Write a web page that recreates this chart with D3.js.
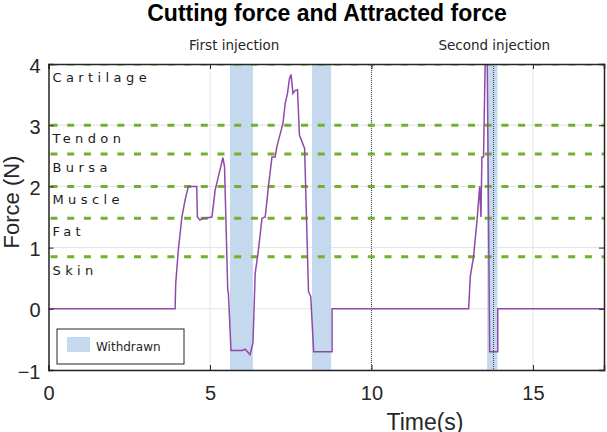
<!DOCTYPE html>
<meta charset="utf-8">
<style>
body{
    margin:0;
    background:white;
}
svg text{
    font-family:"Liberation Sans", Arial, Helvetica, sans-serif;
}
.tick text{
    font-size:20px;
    fill:#262626;
}
.layerLabel{
    font-family:"DejaVu Sans", sans-serif !important;
    font-size:13px;
    letter-spacing:4.4px;
    fill:#1a1a1a;
}
.note{
    font-family:"DejaVu Sans", sans-serif !important;
    font-size:13.5px;
    fill:#262626;
    text-anchor:middle;
}
</style>
<body>
<script src="https://cdn.jsdelivr.net/npm/d3@7"></script>
<script>
// force trace
var time  = [0, 3.92, 3.94, 4.02, 4.13, 4.23, 4.33, 4.59, 4.61, 4.69, 4.75, 5.06, 5.16, 5.26, 5.40, 5.45,
             5.55, 5.57, 5.65, 5.99, 6.09, 6.24, 6.33, 6.40, 6.50, 6.61, 6.71, 6.81, 6.92, 7.02, 7.07,
             7.15, 7.26, 7.33, 7.40, 7.46, 7.51, 7.57, 7.64, 7.71, 7.77, 7.93, 8.05, 8.12, 8.21, 8.78,
             8.78, 13.01, 13.06, 13.16, 13.27, 13.35, 13.39, 13.42, 13.47, 13.53, 13.58, 13.66, 13.91,
             13.91, 17.2];
var force = [0, 0, 0.42, 0.96, 1.5, 1.78, 2.0, 2.0, 1.5, 1.45, 1.47, 1.5, 1.94, 2.16, 2.47, 2.32,
             0.31, 0.26, -0.68, -0.68, -0.66, -0.75, -0.56, 0.58, 0.96, 1.48, 1.5, 2.0, 2.48, 2.48, 2.65,
             2.81, 3.03, 3.36, 3.52, 3.76, 3.83, 3.52, 3.57, 3.58, 2.84, 2.62, 0.28, 0.2, -0.70, -0.70,
             0, 0, 0.53, 0.85, 1.45, 2.0, 1.5, 2.48, 2.48, 4.3, 4.3, -0.70, -0.70,
             0, 0];

var withdrawnStart = [5.62, 8.16, 13.58];
var withdrawnEnd   = [6.33, 8.75, 13.90];

var layerNames  = ["Skin", "Fat", "Muscle", "Bursa", "Tendon", "Cartilage"];
var layerForce  = [0.85, 1.48, 2.0, 2.53, 3.0, 4.0];

var injectionNames = ["First injection", "Second injection"];
var injectionTime  = [5.75, 13.8];
var markerTime     = [10, 13.78];

var xTicks = [0, 5, 10, 15];
var yTicks = [-1, 0, 1, 2, 3, 4];

var W = 607, H = 432;
var m = {left:48.5, right:3, top:64, bottom:62};

var svg = d3.select("body").append("svg").attr("width", W).attr("height", H);

var x = d3.scaleLinear().domain([0, 17.2]).range([m.left, W - m.right]);
var y = d3.scaleLinear().domain([-1, 4]).range([H - m.bottom, m.top]);

svg.append("clipPath").attr("id", "clip")
    .append("rect")
    .attr("x", x(0)).attr("y", y(4))
    .attr("width", x(17.2) - x(0)).attr("height", y(-1) - y(4));

var plot = svg.append("g").attr("clip-path", "url(#clip)");

// grid
plot.selectAll(".gx").data(xTicks).enter().append("line")
    .attr("x1", function(d){ return x(d); }).attr("x2", function(d){ return x(d); })
    .attr("y1", y(4)).attr("y2", y(-1))
    .attr("stroke", "#e3e3e3").attr("stroke-width", 1);
plot.selectAll(".gy").data(yTicks).enter().append("line")
    .attr("x1", x(0)).attr("x2", x(17.2))
    .attr("y1", function(d){ return y(d); }).attr("y2", function(d){ return y(d); })
    .attr("stroke", "#e3e3e3").attr("stroke-width", 1);

// withdrawn bands
plot.selectAll(".band").data(withdrawnStart).enter().append("rect")
    .attr("x", function(d){ return x(d); })
    .attr("width", function(d, i){ return x(withdrawnEnd[i]) - x(d); })
    .attr("y", y(4)).attr("height", y(-1) - y(4))
    .attr("fill", "#c4d8ee");

// injection markers
plot.selectAll(".marker").data(markerTime).enter().append("line")
    .attr("x1", function(d){ return x(d); }).attr("x2", function(d){ return x(d); })
    .attr("y1", y(4)).attr("y2", y(-1))
    .attr("stroke", "#444").attr("stroke-width", 1)
    .attr("stroke-dasharray", "1,1");

// layer thresholds
plot.selectAll(".layer").data(layerForce).enter().append("line")
    .attr("x1", x(0) + 2).attr("x2", x(17.2))
    .attr("y1", function(d){ return y(d); }).attr("y2", function(d){ return y(d); })
    .attr("stroke", "#72b12c").attr("stroke-width", 3)
    .attr("stroke-dasharray", "7,9.7");

svg.selectAll(".layerLabel").data(layerNames).enter().append("text")
    .attr("class", "layerLabel")
    .attr("x", x(0) + 4)
    .attr("y", function(d, i){ return y(layerForce[i]) + 18; })
    .text(function(d){ return d; });

// force trace
var pts = time.map(function(t, i){ return [t, force[i]]; });
plot.append("path").datum(pts)
    .attr("fill", "none")
    .attr("stroke", "#8e4aa8")
    .attr("stroke-width", 1.5)
    .attr("d", d3.line().x(function(d){ return x(d[0]); }).y(function(d){ return y(d[1]); }));

// axes with box
var axB = svg.append("g").attr("transform", "translate(0," + y(-1) + ")")
    .call(d3.axisBottom(x).tickValues(xTicks).tickSize(-5).tickPadding(16).tickFormat(d3.format("d")));
var axL = svg.append("g").attr("transform", "translate(" + x(0) + ",0)")
    .call(d3.axisLeft(y).tickValues(yTicks).tickSize(-5).tickPadding(8).tickFormat(d3.format("d")));
var axT = svg.append("g").attr("transform", "translate(0," + y(4) + ")")
    .call(d3.axisTop(x).tickValues(xTicks).tickSize(-5).tickFormat(""));
var axR = svg.append("g").attr("transform", "translate(" + x(17.2) + ",0)")
    .call(d3.axisRight(y).tickValues(yTicks).tickSize(-5).tickFormat(""));
[axB, axL, axT, axR].forEach(function(a){
    a.selectAll(".domain").attr("stroke", "#262626").attr("stroke-width", 1.5);
    a.selectAll(".tick line").attr("stroke", "#262626");
});
axB.selectAll(".tick text").attr("dy", "0.71em");
axL.selectAll(".tick text").attr("dy", "0.4em");

// legend
var lg = svg.append("g").attr("transform", "translate(57,329)");
lg.append("rect").attr("width", 127).attr("height", 35)
    .attr("fill", "white").attr("stroke", "#262626").attr("stroke-width", 1);
lg.append("rect").attr("x", 10).attr("y", 8).attr("width", 23).attr("height", 15)
    .attr("fill", "#c4d8ee");
lg.append("text").attr("x", 39).attr("y", 21.5)
    .style("font-family", "'DejaVu Sans', sans-serif").style("font-size", "12px")
    .attr("fill", "#262626").text("Withdrawn");

// titles
svg.append("text").attr("x", 327).attr("y", 21)
    .attr("text-anchor", "middle")
    .style("font-size", "23px").style("font-weight", "bold")
    .text("Cutting force and Attracted force");

svg.selectAll(".note").data(injectionNames).enter().append("text")
    .attr("class", "note")
    .attr("x", function(d, i){ return x(injectionTime[i]); })
    .attr("y", 50)
    .text(function(d){ return d; });

svg.append("text").attr("x", 425).attr("y", 430)
    .attr("text-anchor", "middle").style("font-size", "23px").attr("fill", "#262626")
    .text("Time(s)");

svg.append("text")
    .attr("transform", "translate(19," + 202 + ") rotate(-90)")
    .attr("text-anchor", "middle").style("font-size", "22px").attr("fill", "#262626")
    .text("Force (N)");
</script>
</body>
